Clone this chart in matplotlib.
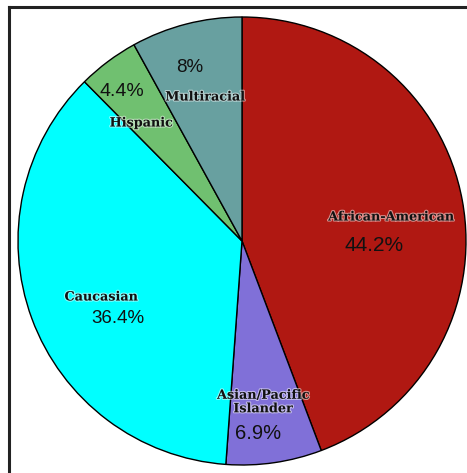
import matplotlib
matplotlib.use("Agg")
import matplotlib.pyplot as plt
import matplotlib.patheffects as pe
from matplotlib.lines import Line2D

groups = ['African-American', 'Asian/Pacific\nIslander', 'Caucasian', 'Hispanic', 'Multiracial']
shares = [44.2, 6.9, 36.4, 4.4, 8.0]
pct_labels = ['44.2%', '6.9%', '36.4%', '4.4%', '8%']
colors = ['#b01812', '#8070d8', '#00ffff', '#70c070', '#68a0a0']

W, H = 467, 473
cx, cy, r = 242, 241, 224

fig = plt.figure(figsize=(W / 100, H / 100), dpi=100)
ax = fig.add_axes([(cx - r) / W, (H - cy - r) / H, 2 * r / W, 2 * r / H])
ax.pie(shares, colors=colors, startangle=90, counterclock=False, radius=1,
       wedgeprops={'edgecolor': 'black', 'linewidth': 1.0})
ax.set_xlim(-1.0, 1.0)
ax.set_ylim(-1.0, 1.0)
ax.set_aspect('auto')
ax.axis('off')


def to_data(px, py):
    return (px - cx) / r, (cy - py) / r


# label positions in pixels of the reference
name_pos = [(391, 217), (263, 402), (101, 297), (141, 123), (205, 97)]
pct_pos = [(374, 245), (258, 433), (118, 318), (122, 91), (190, 67)]
pct_size = [15, 14.5, 13.5, 14, 13.5]

halo = [pe.withStroke(linewidth=1.6, foreground='white', alpha=0.5)]
for name, (px, py) in zip(groups, name_pos):
    x, y = to_data(px, py)
    ax.text(x, y, name, ha='center', va='center', family='DejaVu Serif',
            fontweight='bold', fontsize=9.2, color='#111111', linespacing=1.05,
            path_effects=halo)
for lab, (px, py), fs in zip(pct_labels, pct_pos, pct_size):
    x, y = to_data(px, py)
    ax.text(x, y, lab, ha='center', va='center', family='Liberation Sans',
            fontsize=fs, color='#111111')

# frame: top and left edges only
fig.add_artist(Line2D([9 / W, 1], [1 - 7 / H, 1 - 7 / H], color='#222222', linewidth=2.2))
fig.add_artist(Line2D([9 / W, 9 / W], [0, 1 - 7 / H], color='#222222', linewidth=2.2))

fig.savefig('out.png', dpi=100)
